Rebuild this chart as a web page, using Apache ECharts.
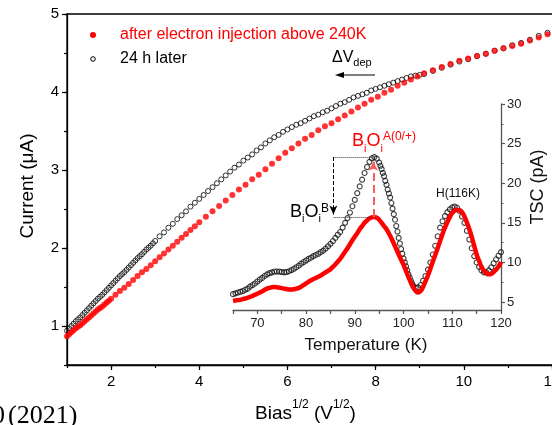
<!DOCTYPE html>
<html>
<head>
<meta charset="utf-8">
<script src="https://cdn.jsdelivr.net/npm/echarts@6/dist/echarts.min.js"></script>
<style>
  html, body { margin: 0; padding: 0; background: #fff; }
  #chart { width: 552px; height: 425px; }
</style>
</head>
<body>
<div id="chart"></div>
<script>
// ---- I–V data: current vs sqrt(bias) ----
// 24 h after injection (open circles)
const sqrtBiasLater = [
  1.0,1.05,1.1,1.15,1.2,1.25,1.3,1.35,1.4,1.45,
  1.5,1.55,1.6,1.65,1.7,1.75,1.8,1.85,1.9,1.95,
  2.0,2.05,2.1,2.15,2.2,2.25,2.3,2.35,2.4,2.45,
  2.5,2.55,2.6,2.65,2.7,2.75,2.8,2.85,2.9,2.95,
  3.0,3.1,3.2,3.3,3.4,3.5,3.6,3.7,3.8,3.9,
  4.0,4.1,4.2,4.3,4.4,4.5,4.6,4.7,4.8,4.9,
  5.0,5.1,5.2,5.3,5.4,5.5,5.6,5.7,5.8,5.9,
  6.0,6.1,6.2,6.3,6.4,6.5,6.6,6.7,6.8,6.9,
  7.0,7.1,7.2,7.3,7.4,7.5,7.6,7.7,7.8,7.9,
  8.0,8.1,8.2,8.3,8.4,8.5,8.6,8.7,8.8,8.9,
  9.0,9.1,9.3,9.5,9.7,9.9,10.1,10.3,10.5,10.7,
  10.9,11.1,11.3,11.5,11.7,11.9,12.1,12.3,12.5
];
const currentLater = [
  0.94,0.97,1.00,1.03,1.06,1.085,1.11,1.14,1.17,1.20,
  1.23,1.26,1.29,1.32,1.35,1.375,1.40,1.43,1.46,1.49,
  1.52,1.55,1.58,1.61,1.64,1.665,1.69,1.72,1.75,1.78,
  1.81,1.84,1.87,1.895,1.92,1.95,1.98,2.005,2.03,2.06,
  2.09,2.15,2.20,2.26,2.31,2.37,2.42,2.47,2.53,2.58,
  2.63,2.68,2.73,2.78,2.83,2.88,2.93,2.98,3.03,3.07,
  3.12,3.16,3.20,3.25,3.29,3.34,3.38,3.42,3.45,3.49,
  3.52,3.55,3.58,3.60,3.63,3.66,3.69,3.71,3.74,3.76,
  3.79,3.82,3.85,3.87,3.90,3.93,3.95,3.97,3.99,4.02,
  4.04,4.06,4.08,4.10,4.12,4.14,4.16,4.18,4.20,4.21,
  4.22,4.23,4.27,4.31,4.35,4.39,4.42,4.46,4.49,4.53,
  4.56,4.60,4.63,4.67,4.72,4.76,4.80,4.84,4.88
];
// right after electron injection above 240 K (filled dots)
const sqrtBiasInj = [
  1.0,1.05,1.1,1.15,1.2,1.25,1.3,1.35,1.4,1.45,
  1.5,1.55,1.6,1.65,1.7,1.75,1.8,1.85,1.9,1.95,
  2.0,2.1,2.2,2.3,2.4,2.5,2.6,2.7,2.8,2.9,
  3.0,3.1,3.2,3.3,3.4,3.5,3.6,3.7,3.8,3.9,
  4.0,4.15,4.3,4.45,4.6,4.75,4.9,5.05,5.2,5.35,
  5.5,5.65,5.8,5.95,6.1,6.25,6.4,6.55,6.7,6.85,
  7.0,7.15,7.3,7.45,7.6,7.75,7.9,8.05,8.2,8.35,
  8.5,8.65,8.8,8.95,9.1,9.3,9.5,9.7,9.9,10.1,
  10.3,10.5,10.7,10.9,11.1,11.3,11.5,11.7,11.9,12.1,
  12.3,12.5
];
const currentInj = [
  0.87,0.895,0.92,0.945,0.97,0.99,1.01,1.035,1.06,1.085,
  1.11,1.135,1.16,1.185,1.21,1.23,1.25,1.275,1.30,1.325,
  1.35,1.40,1.45,1.49,1.54,1.59,1.64,1.69,1.73,1.78,
  1.83,1.88,1.93,1.98,2.03,2.08,2.13,2.18,2.23,2.28,
  2.33,2.40,2.47,2.54,2.61,2.68,2.75,2.81,2.88,2.94,
  3.01,3.08,3.15,3.22,3.28,3.34,3.40,3.45,3.51,3.56,
  3.60,3.65,3.70,3.75,3.80,3.85,3.90,3.94,3.99,4.03,
  4.08,4.12,4.16,4.20,4.24,4.28,4.32,4.36,4.40,4.43,
  4.46,4.49,4.53,4.56,4.59,4.62,4.66,4.70,4.74,4.78,
  4.81,4.85
];

// ---- TSC spectra (inset) ----
const tempLater = [
  65,65.5,66,66.5,67,67.5,68,68.5,69,69.5,
  70,70.5,71,71.5,72,72.5,73,73.5,74,74.5,
  75,75.5,76,76.5,77,77.5,78,78.5,79,79.5,
  80,80.5,81,81.5,82,82.5,83,83.5,84,84.5,
  85,85.5,86,86.5,87,87.5,88,88.5,89,89.5,
  90,90.5,91,91.5,92,92.5,93,93.5,94,94.5,
  95,95.25,95.5,95.75,96,96.25,96.5,96.75,97,97.25,
  97.5,97.75,98,98.25,98.5,98.75,99,99.25,99.5,99.75,
  100,100.25,100.5,100.75,101,101.25,101.5,101.75,102,102.5,
  103,103.5,104,104.5,105,105.5,106,106.5,107,107.5,
  108,108.5,109,109.5,110,110.5,111,111.5,112,112.5,
  113,113.5,114,114.5,115,115.5,116,116.5,117,117.5,
  118,118.5,119,119.5,120
];
const tscLater = [
  6.0,6.1,6.2,6.3,6.4,6.55,6.7,6.95,7.15,7.35,
  7.6,7.85,8.05,8.3,8.5,8.65,8.75,8.85,8.85,8.85,
  8.8,8.75,8.8,8.9,9.05,9.2,9.4,9.6,9.85,10.05,
  10.25,10.45,10.6,10.8,10.95,11.1,11.3,11.5,11.75,12.05,
  12.35,12.7,13.1,13.5,13.85,14.4,15.0,15.6,16.3,17.1,
  17.9,18.75,19.6,20.45,21.3,22.05,22.7,23.15,23.3,23.1,
  22.6,22.2,21.8,21.3,20.9,20.3,19.8,19.2,18.7,18.2,
  17.5,16.8,16.1,15.4,14.6,13.9,13.1,12.4,11.7,11.1,
  10.5,10.0,9.5,9.0,8.5,8.1,7.7,7.35,7.05,6.8,
  6.85,7.15,7.7,8.3,9.1,10.0,11.0,12.1,13.3,14.4,
  15.2,15.85,16.35,16.7,16.95,17.05,16.9,16.5,15.8,15.0,
  14.0,12.9,11.8,10.8,10.0,9.45,9.0,8.75,8.75,9.0,
  9.4,9.9,10.4,10.85,11.3
];
const tempInj = [
  65,65.5,66,66.5,67,67.5,68,68.5,69,69.5,
  70,70.5,71,71.5,72,72.5,73,73.5,74,74.5,
  75,75.5,76,76.5,77,77.5,78,78.5,79,79.5,
  80,80.5,81,81.5,82,82.5,83,83.5,84,84.5,
  85,85.5,86,86.5,87,87.5,88,88.5,89,89.5,
  90,90.5,91,91.5,92,92.5,93,93.5,94,94.5,
  95,95.5,96,96.5,97,97.5,98,98.5,99,99.5,
  100,100.5,101,101.5,102,102.5,103,103.5,104,104.5,
  105,105.5,106,106.5,107,107.5,108,108.5,109,109.5,
  110,110.5,111,111.5,112,112.5,113,113.5,114,114.5,
  115,115.5,116,116.5,117,117.5,118,118.5,119,119.5,
  120
];
const tscInj = [
  5.15,5.2,5.25,5.3,5.38,5.45,5.55,5.65,5.78,5.92,
  6.05,6.2,6.35,6.55,6.7,6.8,6.88,6.9,6.88,6.82,
  6.76,6.7,6.64,6.6,6.6,6.63,6.7,6.8,6.95,7.15,
  7.35,7.55,7.75,7.9,8.05,8.2,8.35,8.55,8.75,8.95,
  9.15,9.45,9.75,10.1,10.45,10.9,11.35,11.8,12.3,12.8,
  13.25,13.7,14.2,14.6,15.0,15.3,15.55,15.7,15.75,15.65,
  15.4,15.0,14.6,14.2,13.65,13.05,12.4,11.7,11.0,10.35,
  9.7,8.95,8.2,7.5,6.85,6.4,6.2,6.4,6.9,7.6,
  8.35,9.2,10.1,10.95,11.8,12.7,13.6,14.4,15.1,15.75,
  16.25,16.55,16.65,16.55,16.35,15.8,15.05,14.2,13.2,12.1,
  11.0,10.2,9.45,8.95,8.65,8.5,8.55,8.8,9.1,9.5,
  10.05
];

// ---- tick labels ----
const biasTicks = [2, 4, 6, 8, 10, 12];
const currentTicks = [1, 2, 3, 4, 5];
const tscTicks = [5, 10, 15, 20, 25, 30];
const tscMinorTicks = [7.5, 12.5, 17.5, 22.5, 27.5];

// peak heights marked in the inset
const peakLater = 23.3;   // BiOi after 24 h
const peakInj = 15.75;    // BiOi right after injection
const arrowTemp = 85.6;   // position of the drop arrow
const peakTemp = 93.8;

const RED = '#ff0000';
const FONT = '"Liberation Sans", Arial, sans-serif';
const SERIF = '"Liberation Serif", "Times New Roman", serif';

const zip = (xs, ys) => xs.map((x, i) => [x, ys[i]]);

// text helpers: a row of pieces with sub/superscripts, placed by baseline
const measureCtx = document.createElement('canvas').getContext('2d');
function textWidth(t, size, fam) {
  measureCtx.font = size + 'px ' + (fam || FONT);
  return measureCtx.measureText(t).width;
}
function textRow(x0, baseline, parts, fill) {
  let x = x0;
  const out = [];
  parts.forEach(([t, size, dy]) => {
    out.push({
      type: 'text', x: x, y: baseline + (dy || 0) - 0.31 * size, silent: true,
      style: { text: t, fontSize: size, fontFamily: FONT, fill: fill, align: 'left', verticalAlign: 'middle' }
    });
    x += textWidth(t, size);
  });
  return out;
}
function rotatedText(t, cx, cy, size, fill) {
  return {
    type: 'text', x: cx, y: cy, rotation: Math.PI / 2, silent: true,
    style: { text: t, fontSize: size, fontFamily: FONT, fill: fill, align: 'center', verticalAlign: 'middle' }
  };
}

// legend drawn as marks + labels
function legendRow(cy, label, color, filled) {
  return [
    {
      type: 'circle', silent: true, shape: { cx: 93, cy: cy, r: filled ? 3 : 2.3 },
      style: filled ? { fill: color } : { fill: 'none', stroke: color, lineWidth: 1 }
    },
    {
      type: 'text', x: 120, y: cy, silent: true,
      style: { text: label, fontSize: 16, fontFamily: FONT, fill: color, align: 'left', verticalAlign: 'middle' }
    }
  ];
}

const graphics = [].concat(
  legendRow(35, 'after electron injection above 240K', RED, true),
  legendRow(59, '24 h later', '#000', false),
  [rotatedText('Current (\u03bcA)', 28, 186, 19, '#000')],
  textRow(255, 420, [['Bias', 19], ['1/2', 12, -12], [' (V', 19], ['1/2', 12, -12], [')', 19]], '#000'),
  [{
    type: 'text', x: 366, y: 345, silent: true,
    style: { text: 'Temperature (K)', fontSize: 17, fontFamily: FONT, fill: '#111', align: 'center', verticalAlign: 'middle' }
  }],
  [rotatedText('TSC (pA)', 538, 187, 18, '#111')],
  [{
    type: 'text', x: 458, y: 194, silent: true,
    style: { text: 'H(116K)', fontSize: 12, fontFamily: FONT, fill: '#111', align: 'center', verticalAlign: 'middle' }
  }],
  textRow(352, 147, [['B', 18], ['i', 11, 5], ['O', 18], ['i', 11, 5], ['A(0/+)', 12, -7]], RED),
  textRow(290, 218, [['B', 18], ['i', 11, 4], ['O', 18], ['i', 11, 4], ['B', 12, -6]], '#000'),
  textRow(332, 63, [['\u0394V', 16], ['dep', 11, 3]], '#000'),
  [
    { type: 'line', silent: true, shape: { x1: 375, y1: 75, x2: 342, y2: 75 }, style: { stroke: '#000', lineWidth: 1.2 } },
    { type: 'polygon', silent: true, shape: { points: [[335, 75], [344, 72], [344, 78]] }, style: { fill: '#000' } },
    {
      type: 'text', x: 8, y: 429, silent: true,
      style: { text: '(2021)', fontSize: 26, fontFamily: SERIF, fill: '#000', align: 'left', verticalAlign: 'bottom' }
    },
    {
      type: 'text', x: -8, y: 429, silent: true,
      style: { text: '0', fontSize: 26, fontFamily: SERIF, fill: '#000', align: 'left', verticalAlign: 'bottom' }
    }
  ]
);

const insetAxisColor = '#555';

const option = {
  animation: false,
  backgroundColor: '#fff',
  textStyle: { fontFamily: FONT },
  grid: [
    { left: 67, right: -22, top: 14, bottom: 60, outerBoundsMode: 'none', containLabel: false,
      show: true, borderColor: '#000', borderWidth: 1.3, backgroundColor: 'transparent' },
    { left: 233, right: 51, top: 104, bottom: 115, outerBoundsMode: 'none', containLabel: false, show: false }
  ],
  xAxis: [
    {
      gridIndex: 0, type: 'value', min: 1, max: 12.5,
      axisLine: { lineStyle: { color: '#000', width: 1.3 } },
      axisTick: { customValues: biasTicks, length: 5, lineStyle: { color: '#000', width: 1.2 } },
      axisLabel: { customValues: biasTicks, fontSize: 15, color: '#000', margin: 9 },
      splitLine: { show: false }
    },
    {
      gridIndex: 0, type: 'value', min: 1, max: 12.5, interval: 1, position: 'bottom',
      axisLine: { show: false },
      axisTick: { length: 3, lineStyle: { color: '#000', width: 1.2 } },
      axisLabel: { show: false }, splitLine: { show: false }
    },
    {
      gridIndex: 1, type: 'value', min: 65, max: 120, interval: 5,
      axisLine: { lineStyle: { color: insetAxisColor, width: 1.3 } },
      axisTick: { length: 4, lineStyle: { color: insetAxisColor, width: 1.2 } },
      axisLabel: { fontSize: 13, color: '#222', margin: 7, formatter: v => (v % 10 === 0 ? String(v) : '') },
      splitLine: { show: false }
    }
  ],
  yAxis: [
    {
      gridIndex: 0, type: 'value', min: 0.5, max: 5,
      axisLine: { show: true, lineStyle: { color: '#000', width: 1.3 } },
      axisTick: { show: true, customValues: currentTicks, length: 5, lineStyle: { color: '#000', width: 1.2 } },
      axisLabel: { customValues: currentTicks, fontSize: 15, color: '#000', margin: 8 },
      splitLine: { show: false }
    },
    {
      gridIndex: 0, type: 'value', min: 0.5, max: 5, interval: 0.5, position: 'left',
      axisLine: { show: false },
      axisTick: { show: true, length: 3, lineStyle: { color: '#000', width: 1.2 } },
      axisLabel: { show: false }, splitLine: { show: false }
    },
    {
      gridIndex: 1, type: 'value', min: 4, max: 30, position: 'right',
      axisLine: { show: true, lineStyle: { color: insetAxisColor, width: 1.3 } },
      axisTick: { show: true, customValues: tscTicks, length: 4, lineStyle: { color: insetAxisColor, width: 1.2 } },
      axisLabel: { customValues: tscTicks, fontSize: 13, color: '#222', margin: 6 },
      splitLine: { show: false }
    },
    {
      gridIndex: 1, type: 'value', min: 4, max: 30, position: 'right',
      axisLine: { show: false },
      axisTick: { show: true, customValues: tscMinorTicks, length: 2.5, lineStyle: { color: insetAxisColor, width: 1.1 } },
      axisLabel: { show: false }, splitLine: { show: false }
    }
  ],
  series: [
    {
      name: '24 h later', type: 'scatter', xAxisIndex: 0, yAxisIndex: 0,
      data: zip(sqrtBiasLater, currentLater),
      symbol: 'circle', symbolSize: 5,
      itemStyle: { color: 'rgba(0,0,0,0)', borderColor: '#000', borderWidth: 1 }
    },
    {
      name: 'after electron injection above 240K', type: 'scatter', xAxisIndex: 0, yAxisIndex: 0,
      data: zip(sqrtBiasInj, currentInj),
      symbol: 'circle', symbolSize: 6,
      itemStyle: { color: RED }
    },
    {
      name: 'TSC injected', type: 'line', xAxisIndex: 2, yAxisIndex: 2,
      data: zip(tempInj, tscInj), smooth: true, showSymbol: false,
      lineStyle: { color: RED, width: 4.5 }
    },
    {
      name: 'TSC later', type: 'scatter', xAxisIndex: 2, yAxisIndex: 2,
      data: zip(tempLater, tscLater),
      symbol: 'circle', symbolSize: 5,
      itemStyle: { color: 'rgba(0,0,0,0)', borderColor: '#111', borderWidth: 1.1 },
      markLine: {
        silent: true, animation: false, label: { show: false },
        symbol: ['none', 'none'],
        data: [
          [
            { coord: [arrowTemp, peakLater], lineStyle: { type: 'dotted', color: '#333', width: 1 } },
            { coord: [peakTemp, peakLater] }
          ],
          [
            { coord: [arrowTemp, peakInj], lineStyle: { type: 'dotted', color: '#333', width: 1 } },
            { coord: [peakTemp, peakInj] }
          ],
          [
            { coord: [arrowTemp, peakLater], symbol: 'none', lineStyle: { type: 'dashed', color: '#000', width: 1 } },
            { coord: [arrowTemp, peakInj + 0.3], symbol: 'arrow', symbolSize: [6, 9] }
          ],
          [
            { coord: [peakTemp, peakInj], symbol: 'none', lineStyle: { type: 'dashed', color: '#ff5a5a', width: 2 } },
            { coord: [peakTemp, peakLater - 0.6], symbol: 'arrow', symbolSize: [7, 9] }
          ]
        ]
      }
    }
  ],
  graphic: graphics
};

const chart = echarts.init(document.getElementById('chart'), null, { renderer: 'canvas' });
chart.setOption(option);
</script>
</body>
</html>
